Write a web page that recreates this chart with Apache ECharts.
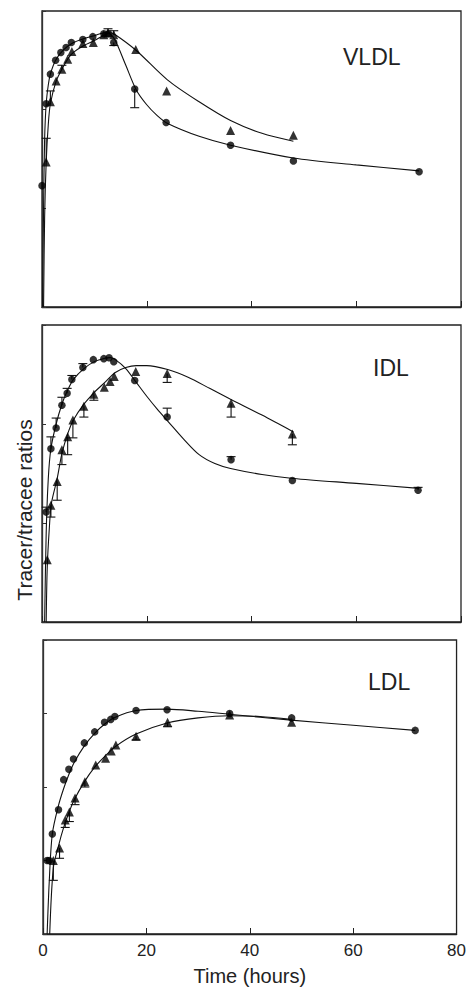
<!DOCTYPE html>
<html>
<head>
<meta charset="utf-8">
<script src="https://cdn.jsdelivr.net/npm/echarts@6/dist/echarts.min.js"></script>
<style>
  html, body { margin: 0; padding: 0; background: #fff; }
  #chart { width: 469px; height: 987px; }
</style>
</head>
<body>
<div id="chart"></div>
<script>
// x ticks (hours)
var xTicks = [0, 20, 40, 60, 80];
var panelNames = ['VLDL', 'IDL', 'LDL'];

// VLDL
var vldlCircles = [[0, 1.23], [0.8, 2.06], [1.6, 2.36], [2.6, 2.50], [3.6, 2.58], [4.6, 2.63], [5.6, 2.68], [7.8, 2.71], [9.7, 2.74], [11.8, 2.77], [12.7, 2.77], [13.7, 2.68], [17.7, 2.21], [23.7, 1.87], [36, 1.64], [48, 1.48], [72, 1.37]];
var vldlTriangles = [[0.8, 1.47], [1.6, 2.08], [2.7, 2.29], [3.8, 2.41], [4.9, 2.51], [5.7, 2.59], [7.8, 2.67], [9.8, 2.68], [11.8, 2.76], [12.6, 2.78], [13.7, 2.76], [17.9, 2.61], [23.8, 2.19], [36, 1.79], [48, 1.74]];
var vldlCircleFit = [[0.1, 0], [0.3, 1.0], [0.5, 1.7], [0.8, 2.06], [1.2, 2.25], [1.6, 2.36], [2.6, 2.5], [4, 2.6], [6, 2.68], [8, 2.72], [10, 2.75], [12, 2.78], [13, 2.77], [14, 2.7], [16, 2.45], [18, 2.2], [20, 2.05], [22, 1.94], [24, 1.86], [30, 1.73], [36, 1.64], [48, 1.51], [60, 1.44], [72, 1.38]];
var vldlTriangleFit = [[0.3, 0], [0.5, 0.9], [0.8, 1.47], [1.2, 1.85], [1.6, 2.06], [2.7, 2.29], [3.8, 2.41], [5, 2.52], [6, 2.58], [8, 2.65], [10, 2.7], [12, 2.76], [13, 2.78], [14, 2.76], [18, 2.6], [24, 2.3], [30, 2.08], [36, 1.89], [42, 1.76], [48, 1.68]];
var vldlErrors = [[17.7, 2.21, 2.02], [0.8, 1.47, 1.71], [1.6, 2.08, 2.19], [3.8, 2.41, 2.45], [12.6, 2.78, 2.82], [13.7, 2.76, 2.80], [13.7, 2.68, 2.65]];

// IDL
var idlCircles = [[0.8, 1.11], [1.7, 1.75], [2.7, 1.96], [3.8, 2.19], [4.8, 2.31], [5.7, 2.45], [7.8, 2.57], [9.8, 2.65], [11.8, 2.66], [12.8, 2.67], [13.7, 2.63], [17.7, 2.44], [23.9, 2.07], [36.1, 1.64], [47.8, 1.43], [71.8, 1.33]];
var idlTriangles = [[1.0, 0.63], [1.7, 1.18], [2.9, 1.42], [3.8, 1.74], [4.9, 1.87], [5.9, 2.04], [8.0, 2.18], [9.9, 2.30], [11.9, 2.37], [13.0, 2.43], [13.8, 2.48], [17.9, 2.53], [23.9, 2.51], [36.1, 2.21], [47.8, 1.90]];
var idlCircleFit = [[0.5, 0], [0.8, 0.9], [1.2, 1.45], [1.7, 1.75], [2.7, 2.0], [3.8, 2.2], [4.8, 2.33], [6, 2.45], [8, 2.56], [10, 2.63], [12, 2.665], [13, 2.67], [14, 2.65], [16, 2.56], [18, 2.42], [20, 2.28], [22, 2.15], [24, 2.03], [27, 1.85], [30, 1.69], [33, 1.6], [36, 1.55], [42, 1.49], [48, 1.45], [60, 1.40], [72, 1.35]];
var idlTriangleFit = [[0.8, 0], [1.0, 0.55], [1.4, 0.95], [1.8, 1.2], [2.9, 1.45], [3.8, 1.7], [4.9, 1.9], [6, 2.04], [8, 2.2], [10, 2.32], [12, 2.42], [14, 2.52], [16, 2.57], [18, 2.59], [20, 2.59], [24, 2.55], [28, 2.47], [32, 2.36], [36, 2.25], [42, 2.09], [48, 1.92]];
var idlErrors = [[0.8, 1.11, 1.16], [1.7, 1.75, 1.87], [2.7, 1.96, 2.06], [3.8, 2.19, 2.27], [4.8, 2.31, 2.36], [5.7, 2.45, 2.49], [7.8, 2.57, 2.61], [23.9, 2.07, 2.16], [36.1, 1.64, 1.67], [71.8, 1.33, 1.36],
                 [1.7, 1.18, 1.06], [2.9, 1.42, 1.23], [3.8, 1.74, 1.59], [4.9, 1.87, 1.69], [5.9, 2.04, 1.86], [8.0, 2.18, 2.07], [9.9, 2.30, 2.24], [23.9, 2.51, 2.42], [36.1, 2.21, 2.07], [47.8, 1.90, 1.79]];

// LDL
var ldlCircles = [[0.8, 1.0], [1.2, 1.0], [1.8, 1.36], [3.0, 1.69], [4.0, 2.10], [5.0, 2.24], [5.9, 2.38], [8.0, 2.60], [10.0, 2.75], [11.9, 2.88], [13.1, 2.92], [13.9, 2.96], [18.0, 3.04], [24.0, 3.05], [36.1, 3.00], [48.1, 2.94], [72.0, 2.77]];
var ldlTriangles = [[2.0, 1.0], [3.2, 1.17], [4.3, 1.55], [5.1, 1.66], [6.2, 1.85], [8.1, 2.07], [10.2, 2.30], [12.1, 2.39], [13.2, 2.49], [14.1, 2.57], [18.0, 2.69], [24.1, 2.88], [36.1, 2.98], [48.1, 2.88]];
var ldlCircleFit = [[0.8, 0], [1.2, 0.7], [1.8, 1.36], [3, 1.75], [4, 1.98], [5, 2.17], [6, 2.33], [8, 2.56], [10, 2.73], [12, 2.86], [14, 2.95], [18, 3.04], [24, 3.06], [30, 3.03], [36, 2.99], [48, 2.91], [60, 2.84], [72, 2.77]];
var ldlTriangleFit = [[1.3, 0], [2, 0.9], [3, 1.2], [4, 1.45], [5, 1.65], [6, 1.82], [8, 2.07], [10, 2.27], [12, 2.42], [14, 2.55], [18, 2.72], [24, 2.87], [30, 2.94], [36, 2.97], [42, 2.96], [48, 2.92]];
var ldlErrors = [[2.0, 1.0, 0.73], [3.2, 1.17, 1.03], [4.3, 1.55, 1.45], [5.1, 1.66, 1.53], [6.2, 1.85, 1.76], [8.1, 2.07, 2.0], [18.0, 2.69, 2.64], [24.1, 2.88, 2.82]];

var yMax = [3, 3, 4];

var panels = [
    { circles: vldlCircles, triangles: vldlTriangles, circleFit: vldlCircleFit, triangleFit: vldlTriangleFit, errors: vldlErrors },
    { circles: idlCircles, triangles: idlTriangles, circleFit: idlCircleFit, triangleFit: idlTriangleFit, errors: idlErrors },
    { circles: ldlCircles, triangles: ldlTriangles, circleFit: ldlCircleFit, triangleFit: ldlTriangleFit, errors: ldlErrors }
];

var FONT = 'Liberation Sans, Arial, Helvetica, sans-serif';

var chart = echarts.init(document.getElementById('chart'), null, { renderer: 'svg' });

var grids = [
    { left: 42, top: 11, width: 419, height: 296 },
    { left: 42, top: 325, width: 419, height: 297 },
    { left: 43, top: 640, width: 418, height: 294 }
];

var xAxes = [], yAxes = [], series = [];

grids.forEach(function (g) {
    g.show = true;
    g.borderColor = '#222';
    g.borderWidth = 1.3;
    g.backgroundColor = 'transparent';
});

// error bar: vertical line from the mean to the end, with a cap
function errorBarItem(params, api) {
    var p1 = api.coord([api.value(0), api.value(1)]);
    var p2 = api.coord([api.value(0), api.value(2)]);
    var style = { stroke: '#111', lineWidth: 1.1 };
    return {
        type: 'group',
        children: [
            { type: 'line', shape: { x1: p1[0], y1: p1[1], x2: p2[0], y2: p2[1] }, style: style },
            { type: 'line', shape: { x1: p2[0] - 4.5, y1: p2[1], x2: p2[0] + 4.5, y2: p2[1] }, style: style }
        ]
    };
}

panels.forEach(function (p, i) {
    var last = i === panels.length - 1;
    xAxes.push({
        gridIndex: i,
        type: 'value',
        min: xTicks[0],
        max: xTicks[xTicks.length - 1],
        interval: 20,
        axisLine: { show: true, lineStyle: { color: '#222', width: 1.3 } },
        axisTick: { show: true, inside: true, length: 6, lineStyle: { color: '#222' } },
        axisLabel: { show: last, fontSize: 17, color: '#222', fontFamily: FONT, margin: 8 },
        splitLine: { show: false },
        name: last ? 'Time (hours)' : '',
        nameLocation: 'middle',
        nameGap: 32,
        nameTextStyle: { fontSize: 20, color: '#222', fontFamily: FONT }
    });
    yAxes.push({
        gridIndex: i,
        type: 'value',
        min: 0,
        max: yMax[i],
        interval: 1,
        axisLine: { show: true, lineStyle: { color: '#333', width: 1.3 } },
        axisTick: { show: true, inside: true, length: 4, lineStyle: { color: '#333' } },
        axisLabel: { show: false },
        splitLine: { show: false }
    });

    var lineStyle = { color: '#111', width: 1.1 };
    series.push({
        type: 'line', xAxisIndex: i, yAxisIndex: i, data: p.circleFit,
        smooth: 0.3, showSymbol: false, lineStyle: lineStyle, silent: true, z: 2
    });
    series.push({
        type: 'line', xAxisIndex: i, yAxisIndex: i, data: p.triangleFit,
        smooth: 0.3, showSymbol: false, lineStyle: lineStyle, silent: true, z: 2
    });
    series.push({
        type: 'custom', xAxisIndex: i, yAxisIndex: i, data: p.errors,
        renderItem: errorBarItem, silent: true, z: 3
    });
    series.push({
        type: 'scatter', xAxisIndex: i, yAxisIndex: i, data: p.circles,
        symbol: 'circle', symbolSize: 7.5, itemStyle: { color: '#000' }, silent: true, z: 4
    });
    series.push({
        type: 'scatter', xAxisIndex: i, yAxisIndex: i, data: p.triangles,
        symbol: 'triangle', symbolSize: 9, itemStyle: { color: '#000' }, silent: true, z: 4
    });
});

var labelPos = [[343, 57], [373, 368], [368, 682]];

var graphics = panelNames.map(function (name, i) {
    return {
        type: 'text',
        left: labelPos[i][0],
        top: labelPos[i][1] - 12,
        style: { text: name, fontSize: 23, fill: '#222', fontFamily: FONT }
    };
});
graphics.push({
    type: 'text',
    x: 24,
    y: 510,
    rotation: Math.PI / 2,
    style: {
        text: 'Tracer/tracee ratios', fontSize: 21, fill: '#222', fontFamily: FONT,
        align: 'center', verticalAlign: 'middle'
    }
});

chart.setOption({
    animation: false,
    backgroundColor: '#fff',
    grid: grids,
    xAxis: xAxes,
    yAxis: yAxes,
    series: series,
    graphic: graphics
});
</script>
</body>
</html>
